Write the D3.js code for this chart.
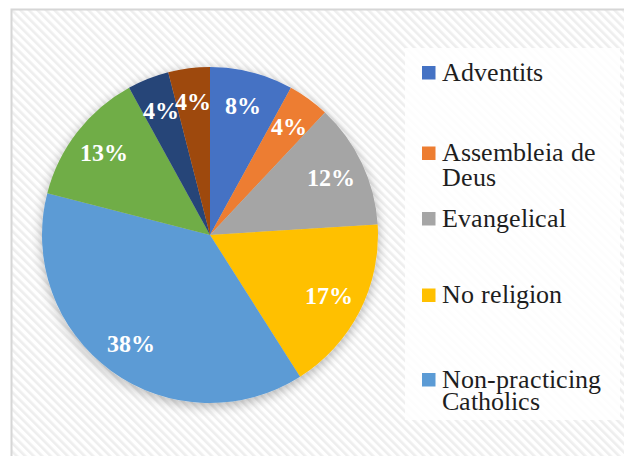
<!DOCTYPE html>
<html><head><meta charset="utf-8">
<script src="https://cdn.jsdelivr.net/npm/d3@7"></script>
<style>
@font-face{font-family:"ChartSerif";src:local("Liberation Serif"),local("LiberationSerif");font-weight:normal;}
@font-face{font-family:"ChartSerif";src:local("Liberation Serif Bold"),local("LiberationSerif-Bold");font-weight:bold;}
html,body{margin:0;padding:0;background:#fff;} svg{display:block}
</style>
</head><body>
<svg id="chart" width="624" height="456"></svg>
<script>
// ---- data ----
const categories = ["Adventits", "Assembleia de Deus", "Evangelical", "No religion", "Non-practicing Catholics", "", "", ""];
const values = [8, 4, 12, 17, 38, 13, 4, 4];
const colors = ["#4472C4", "#ED7D31", "#A5A5A5", "#FFC000", "#5B9BD5", "#70AD47", "#264478", "#9E480E"];
const legendLines = [["Adventits"], ["Assembleia de", "Deus"], ["Evangelical"], ["No religion"], ["Non-practicing", "Catholics"]];

// ---- layout ----
const W = 624, H = 456;
const cx = 210, cy = 235, R = 168;
const FONT = '"ChartSerif", "Liberation Serif", serif';
const legendX = 422, legendBaselines = [80.5, 161, 226.5, 303, 387.5], legendLineGap = [0, 25, 0, 0, 22];

const svg = d3.select("#chart");
const defs = svg.append("defs");

const pat = defs.append("pattern")
  .attr("id", "hatch").attr("patternUnits", "userSpaceOnUse")
  .attr("width", 6).attr("height", 6)
  .attr("patternTransform", "rotate(-45)");
pat.append("rect").attr("width", 6).attr("height", 6).attr("fill", "#ffffff");
pat.append("rect").attr("width", 2.6).attr("height", 6).attr("fill", "#eeeeee");

const f = defs.append("filter").attr("id", "shadow")
  .attr("x", "-20%").attr("y", "-20%").attr("width", "140%").attr("height", "140%");
f.append("feGaussianBlur").attr("in", "SourceAlpha").attr("stdDeviation", 6).attr("result", "b");
f.append("feOffset").attr("in", "b").attr("dx", 0).attr("dy", 3).attr("result", "o");
f.append("feComponentTransfer").attr("in", "o").attr("result", "s")
  .append("feFuncA").attr("type", "linear").attr("slope", 0.3);
const fm = f.append("feMerge");
fm.append("feMergeNode").attr("in", "s");
fm.append("feMergeNode").attr("in", "SourceGraphic");

// background frame
svg.append("rect").attr("x", 0).attr("y", 0).attr("width", W).attr("height", H).attr("fill", "#fff");
svg.append("rect").attr("x", 11.5).attr("y", 9.5).attr("width", W + 20).attr("height", H + 20)
  .attr("fill", "url(#hatch)").attr("stroke", "#d6d6d6").attr("stroke-width", 2);

// legend backdrop
svg.append("rect").attr("x", 405).attr("y", 48).attr("width", 215).attr("height", 372)
  .attr("fill", "#ffffff").attr("opacity", 0.85);

// pie
const pie = d3.pie().sort(null).value(d => d)(values);
const arc = d3.arc().innerRadius(0).outerRadius(R);
const labelArc = d3.arc().innerRadius(100).outerRadius(R);
const g = svg.append("g").attr("transform", `translate(${cx},${cy})`);
const slices = g.append("g").attr("filter", "url(#shadow)");
slices.selectAll("path").data(pie).join("path")
  .attr("d", arc)
  .attr("fill", (d, i) => colors[i]);

g.append("g").selectAll("text").data(pie).join("text")
  .attr("transform", d => `translate(${labelArc.centroid(d)})`)
  .attr("text-anchor", "middle")
  .attr("dy", "0.35em")
  .attr("fill", "#ffffff")
  .style("font-family", FONT)
  .style("font-weight", "bold")
  .style("font-size", "24px")
  .text(d => d.value + "%");

// legend
const lg = svg.append("g");
legendLines.forEach((lines, i) => {
  const yb = legendBaselines[i];
  lg.append("rect").attr("x", legendX).attr("y", yb - 14.5).attr("width", 13.5).attr("height", 13.5)
    .attr("fill", colors[i]);
  lines.forEach((t, j) => {
    lg.append("text")
      .attr("x", legendX + 20).attr("y", yb + j * legendLineGap[i])
      .attr("fill", "#1e1e1e")
      .style("font-family", FONT)
      .style("font-size", "26px")
      .text(t);
  });
});
</script>
</body></html>
